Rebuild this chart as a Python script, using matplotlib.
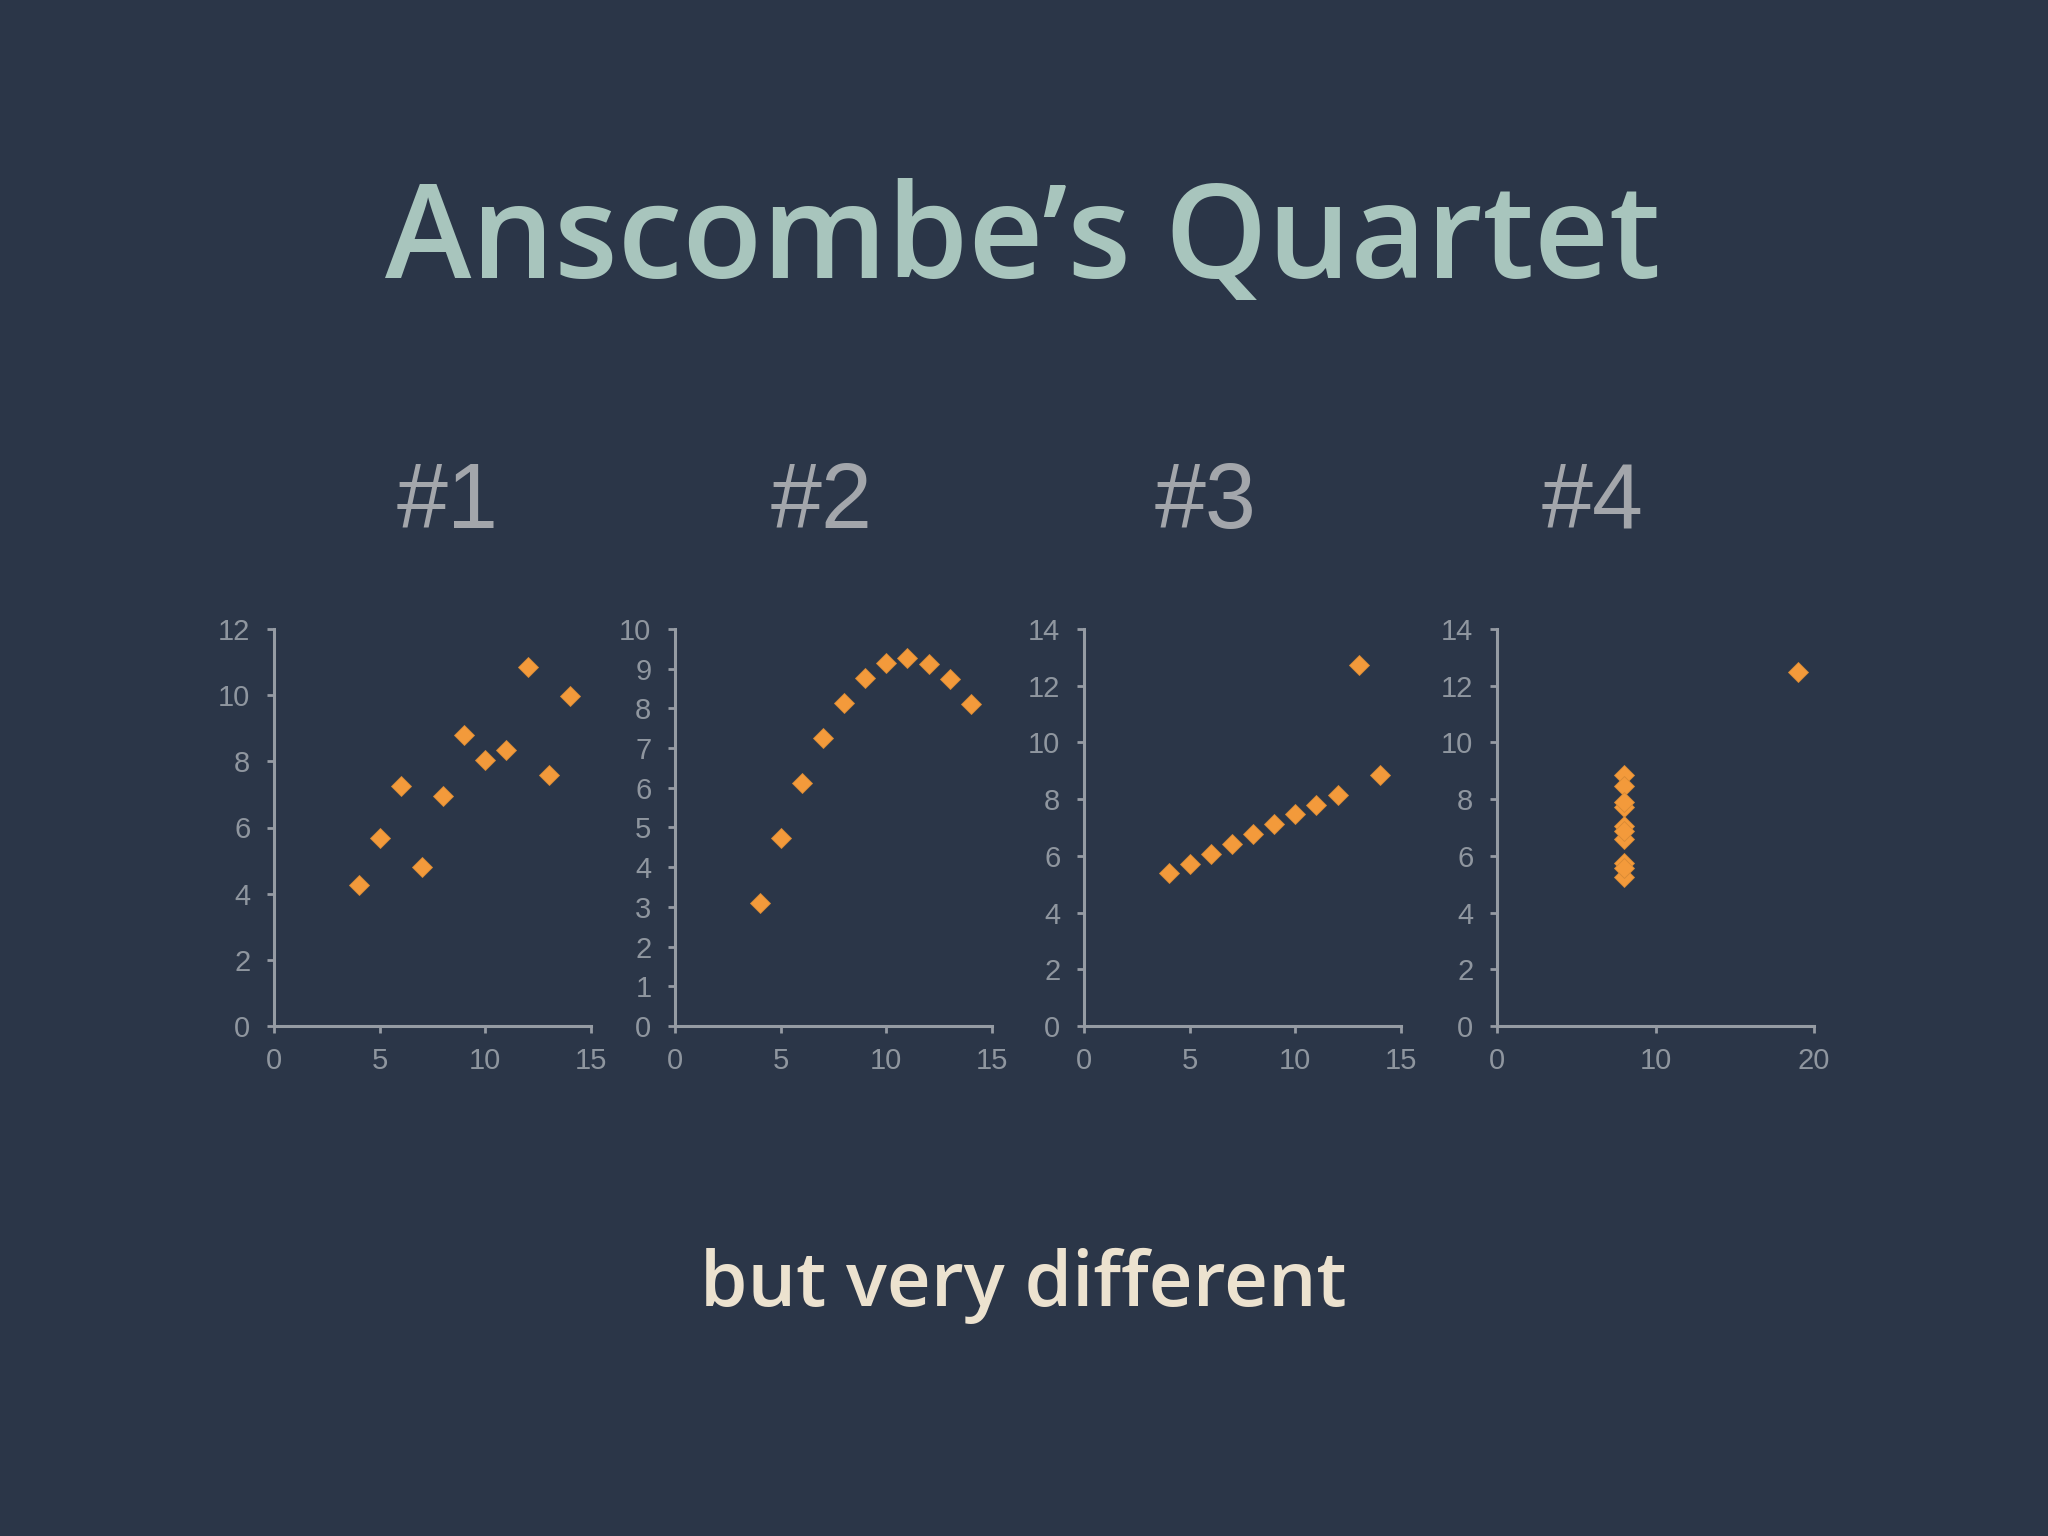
import matplotlib
matplotlib.use("Agg")
import matplotlib.pyplot as plt

# Data (Anscombe's quartet)
x123 = [10, 8, 13, 9, 11, 14, 6, 4, 12, 7, 5]
y1 = [8.04, 6.95, 7.58, 8.81, 8.33, 9.96, 7.24, 4.26, 10.84, 4.82, 5.68]
y2 = [9.14, 8.14, 8.74, 8.77, 9.26, 8.10, 6.13, 3.10, 9.13, 7.26, 4.74]
y3 = [7.46, 6.77, 12.74, 7.11, 7.81, 8.84, 6.08, 5.39, 8.15, 6.42, 5.73]
x4 = [8, 8, 8, 8, 8, 8, 8, 19, 8, 8, 8]
y4 = [6.58, 5.76, 7.71, 8.84, 8.47, 7.04, 5.25, 12.50, 5.56, 7.91, 6.89]

panel_titles = ["#1", "#2", "#3", "#4"]
xs = [x123, x123, x123, x4]
ys = [y1, y2, y3, y4]
xlims = [(0, 15), (0, 15), (0, 15), (0, 20)]
ylims = [(0, 12), (0, 10), (0, 14), (0, 14)]
xticks = [[0, 5, 10, 15], [0, 5, 10, 15], [0, 5, 10, 15], [0, 10, 20]]
yticks = [list(range(0, 13, 2)), list(range(0, 11, 1)), list(range(0, 15, 2)), list(range(0, 15, 2))]

BG = "#2b3648"
AX = "#959ba3"
TICKC = "#8f969f"
ORANGE = "#f39a3b"

W, H = 2048, 1536
fig = plt.figure(figsize=(W / 100, H / 100), dpi=100, facecolor=BG)

lefts_px = [274, 675, 1084, 1497]
ax_w = 317
ax_bottom_px = 1026
ax_h = 397

for i in range(4):
    ax = fig.add_axes([lefts_px[i] / W, 1 - ax_bottom_px / H, ax_w / W, ax_h / H])
    ax.set_facecolor(BG)
    ax.plot(xs[i], ys[i], linestyle="none", marker="D", markersize=10,
            color=ORANGE, markeredgecolor="#d88a35", markeredgewidth=0.6, clip_on=False)
    ax.set_xlim(*xlims[i])
    ax.set_ylim(*ylims[i])
    ax.set_xticks(xticks[i])
    ax.set_yticks(yticks[i])
    for s in ["top", "right"]:
        ax.spines[s].set_visible(False)
    for s in ["left", "bottom"]:
        ax.spines[s].set_color(AX)
        ax.spines[s].set_linewidth(2.2)
    ax.tick_params(axis="both", colors=AX, labelcolor=TICKC, direction="out",
                   length=5, width=2.0, labelsize=21)
    ax.tick_params(axis="y", pad=12)
    ax.tick_params(axis="x", pad=10)
    for lab in ax.get_xticklabels() + ax.get_yticklabels():
        lab.set_family(["Liberation Sans", "DejaVu Sans"])
    fig.text([448, 822, 1206, 1593][i] / W, 1 - 528 / H, panel_titles[i],
             ha="center", va="baseline", fontsize=66, color="#a3a6ab",
             family=["Liberation Sans", "DejaVu Sans"])

fig.text(1023 / W, 1 - 278 / H, "Anscombe\u2019s Quartet", ha="center", va="baseline",
         fontsize=94, color="#a8c5bd", family=["Open Sans", "DejaVu Sans"], fontweight="semibold")
fig.text(1023 / W, 1 - 1306 / H, "but very different", ha="center", va="baseline",
         fontsize=55, color="#ece2cf", family=["Open Sans", "DejaVu Sans"], fontweight="semibold")

fig.savefig("out.png", dpi=100, facecolor=BG)
